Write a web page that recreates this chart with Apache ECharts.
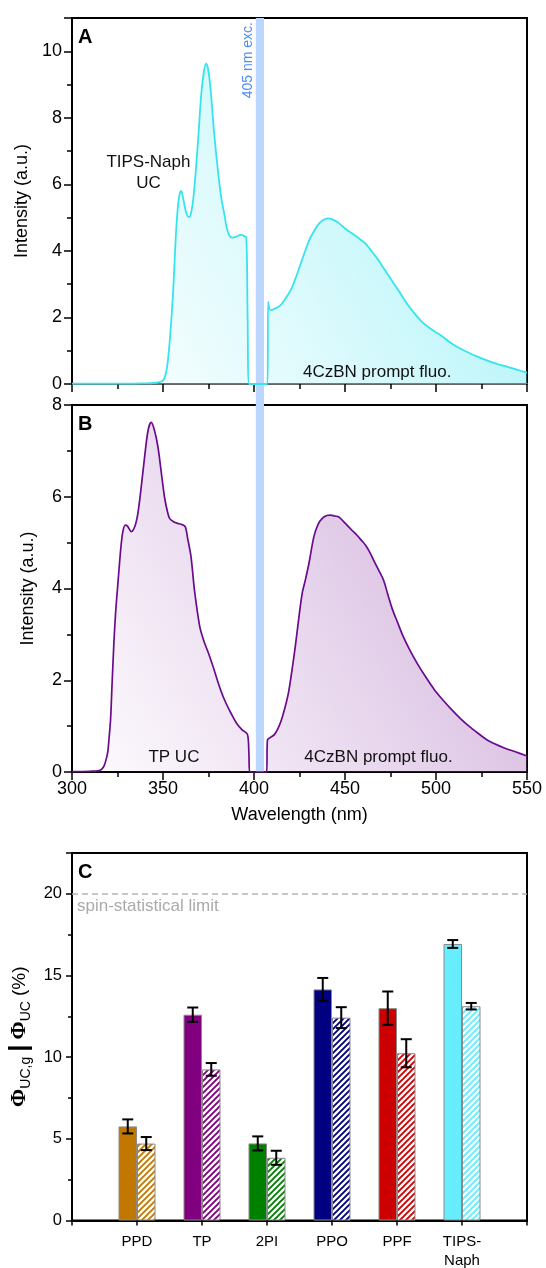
<!DOCTYPE html>
<html><head><meta charset="utf-8">
<script src="https://cdn.jsdelivr.net/npm/echarts@6/dist/echarts.min.js"></script>
<style>html,body{margin:0;padding:0;background:#fff}#c{width:546px;height:1268px}</style>
</head><body><div id="c"></div>
<script>
// ---------- DATA ----------
// Panel A: TIPS-Naph UC + 4CzBN prompt fluorescence
const wlA = [300,310,320,330,340,345,348,350,351.5,352.7,354,355.4,356.3,357.2,358.3,359.2,360,361,362.5,364,365,366.5,368,369.5,371,372.5,373.7,375,376.4,378,380,382,383.7,385,386.4,388,390,392.6,394.5,395.8,396.5,397.3,400,405,407.4,407.8,409,411,414.7,417,420.2,423,425.7,428,430.3,433,435.7,438,440.6,443,445.8,448.5,451.3,454,456.7,459,461.3,464.5,467.7,471,475,479.5,484,488.5,493.2,497.8,502.4,507,511.5,516,520.6,525,529.7,534.3,538.9,544.4,550];
const intA = [0.01,0.01,0.01,0.01,0.02,0.03,0.06,0.1,0.3,0.72,1.5,2.62,3.6,4.6,5.4,5.72,5.8,5.6,5.2,5.02,5.05,5.5,6.4,7.5,8.7,9.4,9.63,9.4,8.7,7.6,6.5,5.6,5.1,4.7,4.47,4.4,4.42,4.48,4.45,4.4,2.0,0,0,0,0,2.47,2.22,2.25,2.37,2.55,2.82,3.2,3.62,3.98,4.32,4.6,4.82,4.93,4.98,4.95,4.87,4.75,4.62,4.52,4.42,4.32,4.22,4.0,3.77,3.5,3.17,2.8,2.42,2.1,1.82,1.63,1.47,1.28,1.12,0.99,0.87,0.77,0.67,0.59,0.52,0.43,0.34];
// Panel B: TP UC + 4CzBN prompt fluorescence
const wlB = [300,306,312,315,316.5,317.7,318.8,319.7,320.5,321.2,322,323,324,325,326,327,328,329.3,330.5,332.6,334.5,336.2,338,339.9,341.8,343.5,345.3,347.2,349,350.8,352.3,353.6,356,358,360,362.2,363.5,365.4,367.3,370.2,372.5,375,377.5,379.8,382,384.5,387.5,390.3,393.5,396.4,397.2,397.6,400,405,406.9,407.4,409.3,411.3,413.2,415.1,417,418.9,420.8,422.7,424.6,426.5,428.3,430.2,432.9,435.2,437.5,440,442,444.3,446.6,449,451.1,453.8,456.6,459,461.2,463.5,465.7,468.5,471.2,473.6,476.1,479,481.9,485.7,489.5,494.2,499,503.8,508.6,513.3,518.1,522.9,527.7,532.5,537.2,543.6,550];
const intB = [0.01,0.01,0.02,0.03,0.07,0.14,0.28,0.45,0.8,1.15,1.9,2.8,3.5,4.0,4.5,4.95,5.25,5.38,5.36,5.24,5.35,5.64,6.2,6.87,7.45,7.62,7.45,7.09,6.55,6.0,5.7,5.53,5.45,5.42,5.4,5.35,5.1,4.69,3.96,3.17,2.85,2.59,2.3,2.01,1.75,1.51,1.27,1.07,0.92,0.82,0.4,0,0,0,0,0.7,0.76,0.82,0.95,1.14,1.4,1.72,2.2,2.74,3.35,3.9,4.2,4.55,5.13,5.4,5.53,5.59,5.6,5.58,5.56,5.47,5.38,5.27,5.16,5.05,4.95,4.8,4.62,4.4,4.18,3.86,3.54,3.25,2.96,2.65,2.38,2.08,1.8,1.57,1.36,1.17,1.0,0.85,0.71,0.61,0.53,0.44,0.35];
// Excitation band (nm)
const excBand = [401, 405.5];
// Panel C: quantum yields (%)
const categories = ['', 'PPD', 'TP', '2PI', 'PPO', 'PPF', 'TIPS-\nNaph', ''];
const phiUCg    = [null, 5.76, 12.6, 4.72, 14.15, 13.0, 16.93, null];
const phiUCgErr = [null, 0.43, 0.44, 0.43, 0.70, 1.02, 0.24, null];
const phiUC     = [null, 4.71, 9.25, 3.84, 12.42, 10.24, 13.12, null];
const phiUCErr  = [null, 0.40, 0.39, 0.43, 0.64, 0.86, 0.20, null];
const spinLimit = 20;
const barColors = [null, '#C27800', '#800080', '#008000', '#000080', '#CC0000', '#66EEFF', null];

// ---------- STYLE ----------
const FONT = 'Liberation Sans, Arial, sans-serif';
const BAR_W = 18.5;
const GL = 72, GW = 455;

function hatch(color) {
  const c = document.createElement('canvas');
  c.width = 6; c.height = 6;
  const g = c.getContext('2d');
  g.fillStyle = '#fff'; g.fillRect(0, 0, 6, 6);
  g.strokeStyle = color; g.lineWidth = 1.9;
  g.beginPath();
  g.moveTo(-1, 7); g.lineTo(7, -1);
  g.moveTo(-4, 4); g.lineTo(4, -4);
  g.moveTo(2, 10); g.lineTo(10, 2);
  g.stroke();
  return c;
}

const chart = echarts.init(document.getElementById('c'), null, {renderer: 'canvas'});

const axisLbl = {color: '#000', fontSize: 18, fontFamily: FONT};
function xWave(gridIndex, showLabels, lineColor) {
  return {
    type: 'value', gridIndex, min: 300, max: 550, interval: 50,
    axisLine: {show: true, onZero: false, lineStyle: {color: lineColor, width: 2}},
    axisTick: {show: true, length: 8, lineStyle: {color: '#000', width: 1.5}},
    minorTick: {show: true, splitNumber: 2, length: 5, lineStyle: {color: '#000', width: 1.5}},
    axisLabel: Object.assign({show: showLabels, margin: 8}, axisLbl),
    splitLine: {show: false}, minorSplitLine: {show: false},
    name: showLabels ? 'Wavelength (nm)' : '', nameLocation: 'middle', nameGap: 34,
    nameTextStyle: {color: '#000', fontSize: 18, fontFamily: FONT}
  };
}
function yInt(gridIndex, max) {
  return {
    type: 'value', gridIndex, min: 0, max, interval: 2,
    axisLine: {show: true, lineStyle: {color: '#000', width: 2}},
    axisTick: {show: true, length: 8, lineStyle: {color: '#000', width: 1.5}},
    minorTick: {show: true, splitNumber: 2, length: 5, lineStyle: {color: '#000', width: 1.5}},
    axisLabel: Object.assign({margin: 10, showMaxLabel: max % 2 === 0}, axisLbl),
    splitLine: {show: false}, minorSplitLine: {show: false},
    name: 'Intensity (a.u.)', nameLocation: 'middle', nameGap: 35,
    nameTextStyle: {color: '#000', fontSize: 18, fontFamily: FONT}
  };
}
const gridBase = {left: GL, width: GW, show: true, borderColor: '#000', borderWidth: 2,
  backgroundColor: 'transparent', containLabel: false, outerBoundsMode: 'none'};

const option = {
  animation: false,
  backgroundColor: '#fff',
  grid: [
    Object.assign({top: 18, height: 366}, gridBase),
    Object.assign({top: 405, height: 367}, gridBase),
    Object.assign({top: 853, height: 367.5}, gridBase)
  ],
  xAxis: [
    xWave(0, false, '#666'),
    xWave(1, true, '#000'),
    {
      type: 'category', gridIndex: 2, data: categories, boundaryGap: false,
      axisLine: {show: true, lineStyle: {color: '#000', width: 2}},
      axisTick: {show: true, interval: 0, length: 5, lineStyle: {color: '#000', width: 1.5}},
      axisLabel: {interval: 0, margin: 12, color: '#000', fontSize: 15, fontFamily: FONT, lineHeight: 19},
      splitLine: {show: false}
    }
  ],
  yAxis: [
    yInt(0, 11),
    yInt(1, 8),
    {
      type: 'value', gridIndex: 2, min: 0, max: 22.5, interval: 5,
      axisLine: {show: true, lineStyle: {color: '#000', width: 2}},
      axisTick: {show: true, length: 6, lineStyle: {color: '#000', width: 1.5}},
      minorTick: {show: true, splitNumber: 2, length: 4, lineStyle: {color: '#000', width: 1.5}},
      axisLabel: {margin: 10, color: '#000', fontSize: 16.5, fontFamily: FONT, showMaxLabel: false},
      splitLine: {show: false}, minorSplitLine: {show: false},
      name: '{phi|Φ}{sub|UC,g} {bar||} {phi|Φ}{sub|UC} {n|(%)}',
      nameLocation: 'middle', nameGap: 31,
      nameTextStyle: {
        color: '#000', fontFamily: FONT, fontSize: 18,
        rich: {
          phi: {fontFamily: 'Liberation Serif, Times New Roman, serif', fontWeight: 'bold', fontSize: 22, color: '#000', lineHeight: 26},
          sub: {fontFamily: FONT, fontSize: 14, color: '#000', lineHeight: 14, verticalAlign: 'bottom'},
          bar: {fontFamily: FONT, fontWeight: 'bold', fontSize: 26, color: '#000', lineHeight: 26},
          n: {fontFamily: FONT, fontSize: 19, color: '#000', lineHeight: 26}
        }
      }
    }
  ],
  series: [
    {
      type: 'line', xAxisIndex: 0, yAxisIndex: 0,
      data: wlA.map((w, i) => [w, intA[i]]),
      showSymbol: false, smooth: 0.3, z: 3,
      lineStyle: {color: '#35e4ee', width: 1.8},
      areaStyle: {color: new echarts.graphic.LinearGradient(0, 1, 1, 0.2, [
        {offset: 0, color: 'rgba(140,238,246,0.06)'},
        {offset: 1, color: 'rgba(40,225,240,0.62)'}
      ])}
    },
    {
      type: 'line', xAxisIndex: 1, yAxisIndex: 1,
      data: wlB.map((w, i) => [w, intB[i]]),
      showSymbol: false, smooth: 0.3, z: 3,
      lineStyle: {color: '#6a0a8c', width: 1.7},
      areaStyle: {color: new echarts.graphic.LinearGradient(0, 1, 1, 0.2, [
        {offset: 0, color: 'rgba(170,100,190,0.03)'},
        {offset: 1, color: 'rgba(145,70,170,0.62)'}
      ])}
    },
    {
      type: 'bar', xAxisIndex: 2, yAxisIndex: 2, barWidth: BAR_W, barGap: '0%',
      data: phiUCg.map((v, i) => v == null ? '-' : {value: v, itemStyle: {color: barColors[i]}}),
      itemStyle: {borderColor: '#8a8a8a', borderWidth: 1},
      markLine: {
        silent: true, symbol: 'none', label: {show: false},
        lineStyle: {color: '#b4b4b4', type: [6, 4], width: 1.6},
        data: [{yAxis: spinLimit}]
      }
    },
    {
      type: 'bar', xAxisIndex: 2, yAxisIndex: 2, barWidth: BAR_W, barGap: '0%',
      data: phiUC.map((v, i) => v == null ? '-' : {value: v, itemStyle: {color: {image: hatch(barColors[i]), repeat: 'repeat'}}}),
      itemStyle: {borderColor: '#8a8a8a', borderWidth: 1}
    },
    errSeries(phiUCg, phiUCgErr, -1),
    errSeries(phiUC, phiUCErr, 1)
  ]
};

function errSeries(vals, errs, sign) {
  const data = [];
  vals.forEach((v, i) => { if (v != null) data.push([i, v, errs[i]]); });
  return {
    type: 'custom', xAxisIndex: 2, yAxisIndex: 2, z: 5,
    encode: {x: 0, y: 1},
    data,
    renderItem: function (params, api) {
      const ci = api.value(0), v = api.value(1), e = api.value(2);
      const p1 = api.coord([ci, v + e]);
      const p2 = api.coord([ci, v - e]);
      const cx = p1[0] + sign * BAR_W / 2;
      const cap = 5.5;
      const st = {stroke: '#000', lineWidth: 2};
      return {type: 'group', children: [
        {type: 'line', shape: {x1: cx, y1: p1[1], x2: cx, y2: p2[1]}, style: st},
        {type: 'line', shape: {x1: cx - cap, y1: p1[1], x2: cx + cap, y2: p1[1]}, style: st},
        {type: 'line', shape: {x1: cx - cap, y1: p2[1], x2: cx + cap, y2: p2[1]}, style: st}
      ]};
    }
  };
}

chart.setOption(option);

// ---------- annotations (positioned via the chart's own scales) ----------
const annotA = [{x: 342, y: 6.35, text: 'TIPS-Naph\nUC'}, {x: 467.7, y: 0.36, text: '4CzBN prompt fluo.'}];
const annotB = [{x: 356, y: 0.32, text: 'TP UC'}, {x: 468.4, y: 0.32, text: '4CzBN prompt fluo.'}];

const px = (g, pt) => chart.convertToPixel({gridIndex: g}, pt);
const bandTL = px(0, [excBand[0], 11]);
const bandBR = px(1, [excBand[1], 0]);
const g = [];
g.push({type: 'rect', z: 1, silent: true,
  shape: {x: bandTL[0], y: bandTL[1], width: bandBR[0] - bandTL[0], height: bandBR[1] - bandTL[1]},
  style: {fill: '#bcd7fd'}});
g.push({type: 'text', z: 10, x: bandTL[0] - 8, y: bandTL[1] + 4, rotation: Math.PI / 2,
  style: {text: '405 nm exc.', fill: '#4f8df5', fontSize: 14, fontFamily: FONT, align: 'right', verticalAlign: 'middle'}});
function annot(gi, list) {
  list.forEach(a => {
    const p = px(gi, [a.x, a.y]);
    g.push({type: 'text', z: 10, x: p[0], y: p[1],
      style: {text: a.text, fill: '#111', fontSize: 17, fontFamily: FONT, align: 'center', verticalAlign: 'middle', lineHeight: 21}});
  });
}
annot(0, annotA);
annot(1, annotB);
const letter = (gi, pt, t) => {
  const p = px(gi, pt);
  g.push({type: 'text', z: 10, x: p[0] + 6, y: p[1] + 9,
    style: {text: t, fill: '#000', fontSize: 20, fontWeight: 'bold', fontFamily: FONT, align: 'left', verticalAlign: 'top'}});
};
letter(0, [300, 11], 'A');
letter(1, [300, 8], 'B');
letter(2, [0, 22.5], 'C');
const sl = px(2, [0, spinLimit]);
g.push({type: 'text', z: 10, x: sl[0] + 5, y: sl[1] + 12,
  style: {text: 'spin-statistical limit', fill: '#aaaaaa', fontSize: 17, fontFamily: FONT, align: 'left', verticalAlign: 'middle'}});
chart.setOption({graphic: g});
</script>
</body></html>
